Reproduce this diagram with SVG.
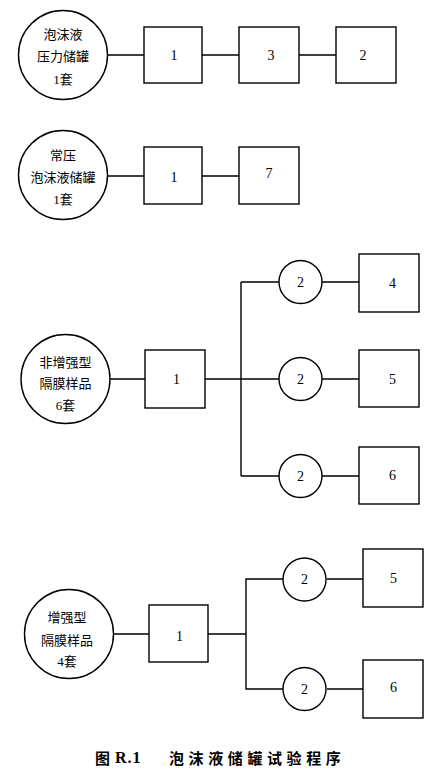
<svg xmlns="http://www.w3.org/2000/svg" width="441" height="775" viewBox="0 0 441 775">
<style>
.s{fill:#fff;stroke:#000;stroke-width:1.4}
.c{fill:none;stroke:#000;stroke-width:1.4}
.t{font-family:"Liberation Serif","Noto Sans CJK SC",serif;font-size:13px;fill:#000;text-anchor:middle;dominant-baseline:central}
.d{font-size:14px}
.cap{font-family:"Noto Sans CJK SC",sans-serif;font-size:15px;font-weight:bold;fill:#000;dominant-baseline:central}
</style>
<rect width="441" height="775" fill="#fff"/>
<g id="connectors">
<path class="c" d="M107 55H144M202 55H239M299 55H336"/>
<path class="c" d="M107 176H144M202 176H239"/>
<path class="c" d="M110 379H145M205 379H279M241 282V476M241 282H279M241 476H279M322 282H359M322 379H359M322 476H359"/>
<path class="c" d="M113 634H149M208 634H246V579H283M246 634V689H283M327 579H363M327 689H363"/>
</g>
<g id="n_tank1"><circle class="s" cx="63" cy="55" r="44.5"/>
<text class="t" x="63" y="34">泡沫液</text><text class="t" x="63" y="56.5">压力储罐</text><text class="t" x="63" y="79">1套</text></g>
<g id="n_a1"><rect class="s" x="144" y="27" width="58" height="56"/><text class="t d" x="174" y="55">1</text></g>
<g id="n_a3"><rect class="s" x="239" y="27" width="60" height="56"/><text class="t d" x="271" y="55">3</text></g>
<g id="n_a2"><rect class="s" x="336" y="27" width="60" height="56"/><text class="t d" x="363" y="55">2</text></g>

<g id="n_tank2"><circle class="s" cx="63" cy="175" r="44.5"/>
<text class="t" x="63" y="155.5">常压</text><text class="t" x="63" y="177.5">泡沫液储罐</text><text class="t" x="63" y="199">1套</text></g>
<g id="n_b1"><rect class="s" x="144" y="147" width="58" height="57"/><text class="t d" x="174" y="177">1</text></g>
<g id="n_b7"><rect class="s" x="239" y="147" width="60" height="57"/><text class="t d" x="269" y="173">7</text></g>

<g id="n_mem6"><circle class="s" cx="65.5" cy="379" r="44.5"/>
<text class="t" x="65.5" y="362">非增强型</text><text class="t" x="65.5" y="383">隔膜样品</text><text class="t" x="65.5" y="405">6套</text></g>
<g id="n_c1"><rect class="s" x="145" y="350" width="60" height="58"/><text class="t d" x="176.5" y="379">1</text></g>
<g id="n_c2a"><circle class="s" cx="300.5" cy="282" r="21.5"/><text class="t d" x="300.5" y="282">2</text></g>
<g id="n_c2b"><circle class="s" cx="300.5" cy="379" r="21.5"/><text class="t d" x="300.5" y="379">2</text></g>
<g id="n_c2c"><circle class="s" cx="300.5" cy="476" r="21.5"/><text class="t d" x="300.5" y="476">2</text></g>
<g id="n_c4"><rect class="s" x="359" y="254" width="60" height="58"/><text class="t d" x="392.5" y="283">4</text></g>
<g id="n_c5"><rect class="s" x="359" y="350" width="60" height="57"/><text class="t d" x="392.5" y="379">5</text></g>
<g id="n_c6"><rect class="s" x="359" y="447" width="60" height="57"/><text class="t d" x="392.5" y="475">6</text></g>

<g id="n_mem4"><circle class="s" cx="69" cy="634" r="44.5"/>
<text class="t" x="67" y="617">增强型</text><text class="t" x="67" y="640">隔膜样品</text><text class="t" x="67" y="661">4套</text></g>
<g id="n_d1"><rect class="s" x="149" y="605" width="59" height="57"/><text class="t d" x="179.5" y="636">1</text></g>
<g id="n_d2a"><circle class="s" cx="304.5" cy="579.5" r="21.5"/><text class="t d" x="304.5" y="579.5">2</text></g>
<g id="n_d2b"><circle class="s" cx="304.5" cy="689" r="21.5"/><text class="t d" x="304.5" y="689">2</text></g>
<g id="n_d5"><rect class="s" x="363" y="549" width="60" height="58"/><text class="t d" x="393.5" y="578">5</text></g>
<g id="n_d6"><rect class="s" x="363" y="660" width="60" height="58"/><text class="t d" x="393.5" y="687">6</text></g>

<g id="caption">
<text class="cap" x="95" y="757.5">图</text>
<text class="cap" x="115" y="757.5" letter-spacing="1" style="font-family:'Liberation Serif',serif;font-size:16px">R.1</text>
<text class="cap" x="169" y="757.5" letter-spacing="4.6">泡沫液储罐试验程序</text>
</g>
</svg>
